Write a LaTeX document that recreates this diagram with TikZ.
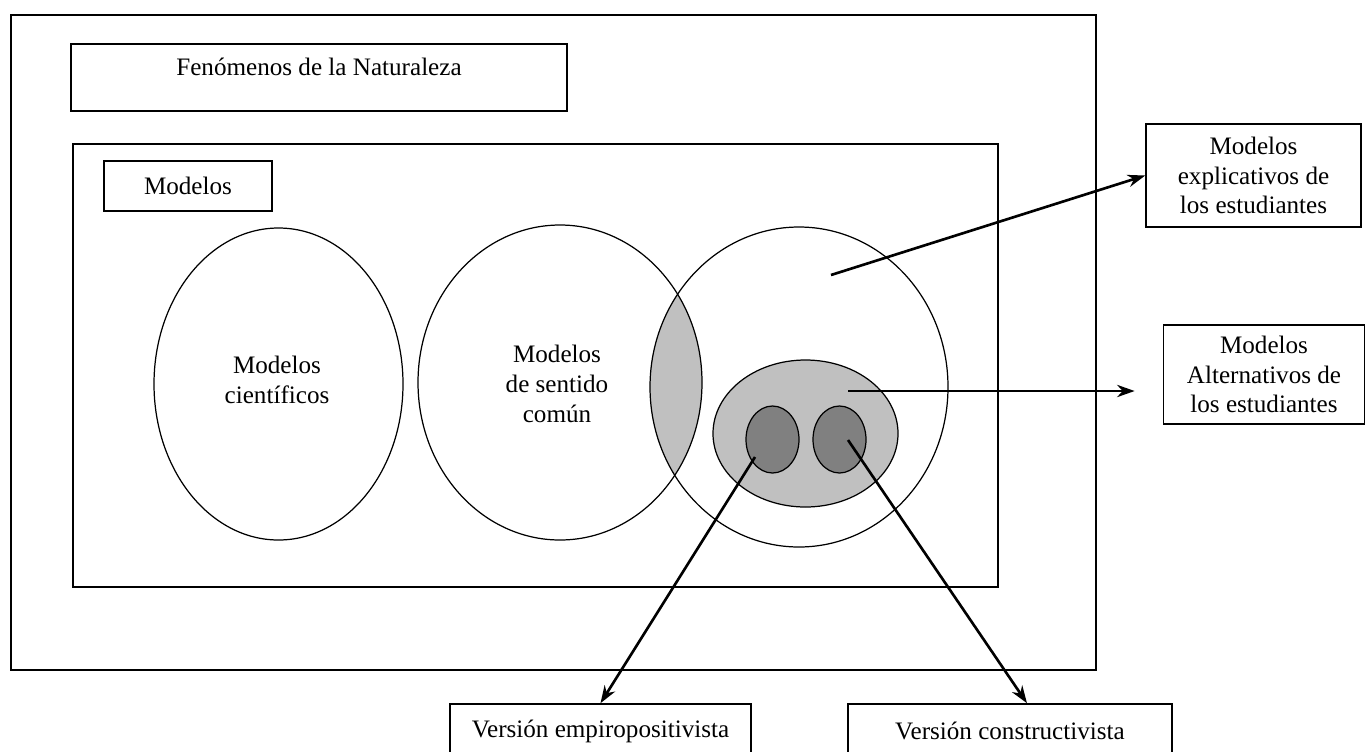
\documentclass[tikz,border=0pt]{standalone}
\usepackage{fontspec}
\setmainfont{Liberation Serif}
\usetikzlibrary{arrows.meta}
\definecolor{grisclaro}{RGB}{192,192,192}
\definecolor{grisoscuro}{RGB}{128,128,128}
\tikzset{
    caja/.style={draw,line width=0.9pt,inner sep=0pt,align=center},
    texto/.style={inner sep=0pt,align=center},
    borde/.style={line width=0.7pt},
    flecha/.style={line width=1.5pt,-{Stealth[length=10pt,width=7pt]}}
}

\begin{document}
\begin{tikzpicture}[x=0.02cm,y=-0.02cm,font=\fontsize{14.3}{17}\selectfont]
    \useasboundingbox (0,0) rectangle (1368,751);
    \draw[line width=0.9pt] (11,15) rectangle (1096,670);
    \node[caja,minimum width=9.92cm,minimum height=1.34cm] (fenomenos) at (319,77.5) {};
    \node[texto] (fenomenostxt) at (319,67) {Fenómenos de la Naturaleza};

    %Modelos
    \draw[line width=0.9pt] (73,144) rectangle (998,587);
    \node[caja,minimum width=3.36cm,minimum height=1cm] (modelos) at (188,186) {Modelos};

    \coordinate (cientificos) at (278.5,384);
    \coordinate (sentido) at (560,382.5);
    \coordinate (estudiantes) at (799,387);
    \coordinate (alternativos) at (805.5,433.5);
    \coordinate (empirico) at (772.5,439.5);
    \coordinate (constructivo) at (839.5,439.5);

    % interseccion
    \begin{scope}
        \clip (sentido) ellipse [x radius=142,y radius=157.5];
        \fill[grisclaro] (estudiantes) ellipse [x radius=149,y radius=160];
    \end{scope}
    \draw[borde] (cientificos) ellipse [x radius=124.5,y radius=156];
    \draw[borde] (sentido) ellipse [x radius=142,y radius=157.5];
    \draw[borde] (estudiantes) ellipse [x radius=149,y radius=160];
    \draw[borde,fill=grisclaro] (alternativos) ellipse [x radius=92.5,y radius=73.5];
    \draw[borde,fill=grisoscuro] (empirico) ellipse [x radius=26.5,y radius=33.5];
    \draw[borde,fill=grisoscuro] (constructivo) ellipse [x radius=26.5,y radius=33.5];

    \node[texto] (cientificostxt) at (277,380) {Modelos\\científicos};
    \node[texto] (sentidotxt) at (557,384) {Modelos\\de sentido\\común};

    %cajas de la derecha y de abajo
    \node[caja,minimum width=4.3cm,minimum height=2.06cm] (explicativos) at (1253.5,175.5)
        {Modelos\\explicativos de\\los estudiantes};
    \node[caja,minimum width=4.02cm,minimum height=1.98cm] (alternos) at (1264,374.5)
        {Modelos\\Alternativos de\\los estudiantes};
    \node[caja,minimum width=6.02cm,minimum height=1.08cm] (empiro) at (600.5,731)
        {Versión empiropositivista};
    \node[caja,minimum width=6.48cm,minimum height=1.08cm] (constructivista) at (1010,731)
        {Versión constructivista};

    %flechas
    \coordinate (p1) at (831,275);
    \coordinate (p2) at (848,391);
    \coordinate (p3) at (755,457);
    \coordinate (p4) at (848,440);
    \draw[flecha] (p1) -- (explicativos.west);
    \draw[flecha,shorten >=16] (p2) -- (p2 -| alternos.west);
    \draw[flecha] (p3) -- (empiro.north);
    \draw[flecha] (p4) -- ([xshift=0.34cm]constructivista.north);
\end{tikzpicture}
\end{document}
